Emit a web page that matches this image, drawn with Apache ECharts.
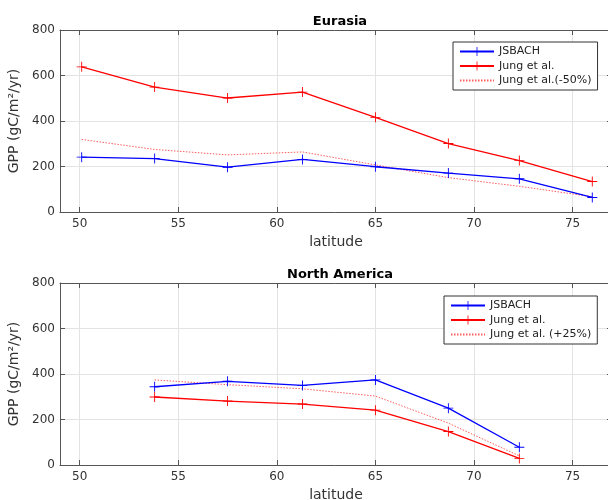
<!DOCTYPE html>
<html><head><meta charset="utf-8">
<script src="https://cdn.jsdelivr.net/npm/echarts@6/dist/echarts.min.js"></script>
<style>html,body{margin:0;padding:0;background:#fff;overflow:hidden}#c{width:608px;height:500px}</style>
</head><body><div id="c"></div>
<script>
const latEurasia = [50.1, 53.8, 57.5, 61.3, 65.0, 68.7, 72.3, 76.0];
const eurJsbach = [241, 235, 197, 231, 199, 171, 146, 64];
const eurJung = [638, 549, 501, 527, 416, 301, 226, 134];
const eurJungHalf = [319, 275, 251, 264, 207, 151, 113, 67];
const latNAm = [53.8, 57.5, 61.3, 65.0, 68.7, 72.3];
const namJsbach = [344, 368, 350, 374, 250, 78];
const namJung = [299, 281, 268, 241, 147, 29];
const namJungPlus = [374, 353, 335, 303, 184, 40];
const xTicks = [50, 55, 60, 65, 70, 75];
const titles = ['Eurasia', 'North America'];
const names1 = ['JSBACH', 'Jung et al.', 'Jung et al.(-50%)'];
const names2 = ['JSBACH', 'Jung et al.', 'Jung et al. (+25%)'];

const FONT = 'DejaVu Sans';
const AX = '#555';
const plus = 'path://M0,4.55 H10 V5.45 H0 Z M4.55,0 H5.45 V10 H4.55 Z';
const zip = (xs, ys) => xs.map((x, i) => [x, ys[i]]);

function xAxes(gi) {
  return [{
    type: 'value', gridIndex: gi, min: 49, max: 77, position: 'bottom',
    name: 'latitude', nameLocation: 'middle', nameGap: 23,
    nameTextStyle: {fontFamily: FONT, fontSize: 14, color: '#333'},
    axisLine: {show: true, onZero: false, lineStyle: {color: AX, width: 1}},
    axisTick: {show: true, inside: true, length: 5, customValues: xTicks, lineStyle: {color: AX}},
    axisLabel: {customValues: xTicks, fontFamily: FONT, fontSize: 12, color: '#333', margin: 6},
    splitLine: {show: true, lineStyle: {color: '#e3e3e3', width: 1}}
  }, {
    type: 'value', gridIndex: gi, min: 49, max: 77, position: 'top',
    axisLine: {show: true, onZero: false, lineStyle: {color: AX, width: 1}},
    axisTick: {show: true, inside: true, length: 5, customValues: xTicks, lineStyle: {color: AX}},
    axisLabel: {show: false}, splitLine: {show: false}
  }];
}
function yAxes(gi) {
  return [{
    type: 'value', gridIndex: gi, min: 0, max: 800, interval: 200, position: 'left',
    name: 'GPP (gC/m²/yr)', nameLocation: 'middle', nameGap: 31,
    nameTextStyle: {fontFamily: FONT, fontSize: 14, color: '#333'},
    axisLine: {show: true, lineStyle: {color: AX, width: 1}},
    axisTick: {show: true, inside: true, length: 5, lineStyle: {color: AX}},
    axisLabel: {fontFamily: FONT, fontSize: 12, color: '#333', margin: 5},
    splitLine: {show: true, lineStyle: {color: '#e3e3e3', width: 1}}
  }, {
    type: 'value', gridIndex: gi, min: 0, max: 800, interval: 200, position: 'right',
    axisLine: {show: true, lineStyle: {color: AX, width: 1}},
    axisTick: {show: true, inside: true, length: 5, lineStyle: {color: AX}},
    axisLabel: {show: false}, splitLine: {show: false}
  }];
}
function solid(name, data, color, xi, yi) {
  return {type: 'line', name, data, xAxisIndex: xi, yAxisIndex: yi,
    symbol: plus, symbolSize: 10, showSymbol: true,
    lineStyle: {color, width: 1.3}, itemStyle: {color}, animation: false, z: 5};
}
function dotted(name, data, xi, yi) {
  return {type: 'line', name, data, xAxisIndex: xi, yAxisIndex: yi,
    symbol: 'none',
    lineStyle: {color: 'rgba(255,40,40,0.75)', width: 1, type: [1.5, 1.5]},
    itemStyle: {color: 'rgba(255,40,40,0.75)'}, animation: false, z: 4};
}
function legend(names, left, top) {
  const data = names.map((n, i) => i === 2 ? {name: n, itemStyle: {opacity: 0}} : n);
  return {orient: 'vertical', left, top, data, selectedMode: false,
    backgroundColor: '#fff', borderColor: '#333', borderWidth: 1,
    padding: [4, 6, 4, 6], itemGap: 3.5, itemWidth: 34, itemHeight: 11,
    textStyle: {fontFamily: FONT, fontSize: 11, color: '#222'}};
}

const chart = echarts.init(document.getElementById('c'), null, {renderer: 'canvas'});
chart.setOption({
  animation: false,
  backgroundColor: '#fff',
  title: [
    {text: titles[0], left: 335, top: 10, textAlign: 'center', textStyle: {fontFamily: FONT, fontSize: 13, fontWeight: 'bold', color: '#000'}},
    {text: titles[1], left: 335, top: 263, textAlign: 'center', textStyle: {fontFamily: FONT, fontSize: 13, fontWeight: 'bold', color: '#000'}}
  ],
  grid: [
    {left: 60, right: -4, top: 30, bottom: 288, outerBoundsMode: 'none'},
    {left: 60, right: -4, top: 283, bottom: 35, outerBoundsMode: 'none'}
  ],
  xAxis: [...xAxes(0), ...xAxes(1)],
  yAxis: [...yAxes(0), ...yAxes(1)],
  legend: [legend(names1, 453, 42), legend(names2, 444, 296)],
  series: [
    solid(names1[0], zip(latEurasia, eurJsbach), '#0000ff', 0, 0),
    solid(names1[1], zip(latEurasia, eurJung), '#ff0000', 0, 0),
    dotted(names1[2], zip(latEurasia, eurJungHalf), 0, 0),
    solid(names2[0], zip(latNAm, namJsbach), '#0000ff', 2, 2),
    solid(names2[1], zip(latNAm, namJung), '#ff0000', 2, 2),
    dotted(names2[2], zip(latNAm, namJungPlus), 2, 2)
  ]
});
</script></body></html>
